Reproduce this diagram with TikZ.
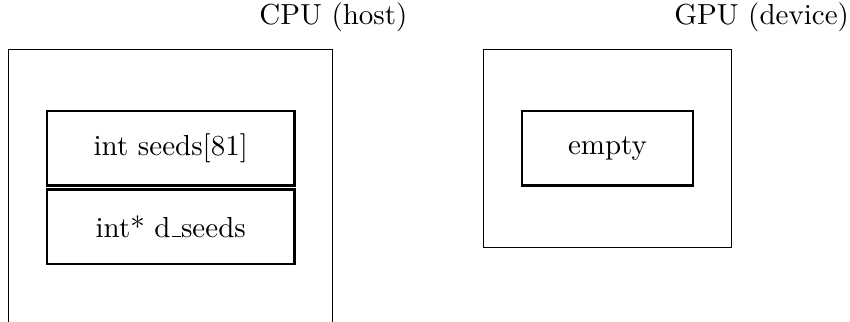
\documentclass[tikz,border=0pt]{standalone}
\usetikzlibrary{positioning}
\tikzstyle{memory}=[
	rectangle,
	draw,
	thin
]
\tikzstyle{field}=[
	rectangle,
	draw,
	thick,
	minimum width=3cm,
	minimum height=0.9cm,
	node distance=0.6pt
]
\tikzstyle{side}=[
	inner sep=0pt
]
\newcommand{\uscore}{\leavevmode\kern.06em\vbox{\hrule width.3em}}

\begin{document}
\begin{tikzpicture}
\useasboundingbox (0,0) rectangle (10.3,-3.9);
\clip (0,0) rectangle (10.3,-3.9);
\node [memory, anchor=north west, minimum width=3.93cm, minimum height=4.5cm] (CPU) at (0.097,-0.594) {};
\node [memory, anchor=north west, minimum width=3.0cm, minimum height=2.4cm] (GPU) at (5.855,-0.594) {};
\node [field] (seeds) [below=0.74cm of CPU.north] {int seeds[81]};
\node [field] (dseeds) [below=of seeds] {int* d\uscore seeds};
\node [field, minimum width=2.07cm] (empty) [below=0.74cm of GPU.north] {empty};
\node [side] (CPUlabel) [above=0.2cm of CPU.north east] {CPU (host)};
\node [side] (GPUlabel) [above=0.2cm of GPU.north east, xshift=0.36cm] {GPU (device)};
\end{tikzpicture}
\end{document}
